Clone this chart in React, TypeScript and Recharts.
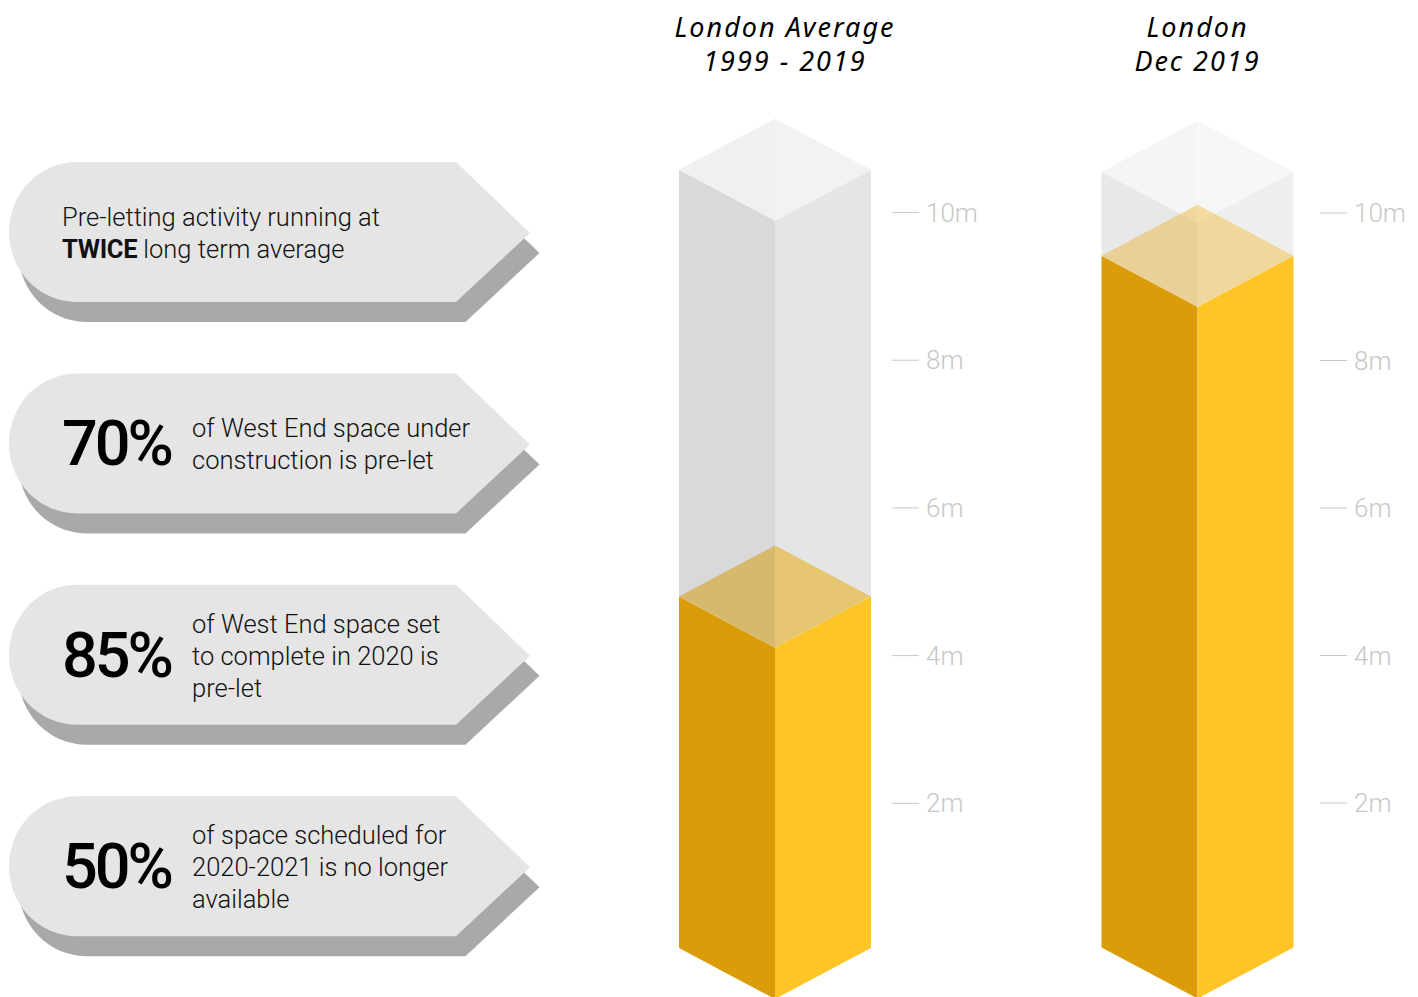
import React from "react";
import { Bar, BarChart, XAxis, YAxis } from "recharts";

// Space pre-let, million sq ft
const periods = ["London Average 1999 - 2019", "London Dec 2019"];
const preLet = [4.8, 9.42];
const capacity = [10.58, 10.56];
const axisTicks = [2, 4, 6, 8, 10];

const figures = ["", "70%", "85%", "50%"];
const calloutLines = [
  ["Pre-letting activity running at", "long term average"],
  ["of West End space under", "construction is pre-let"],
  ["of West End space set", "to complete in 2020 is", "pre-let"],
  ["of space scheduled for", "2020-2021 is no longer", "available"],
];

const FONT = "Roboto, 'Open Sans', sans-serif";
const TITLE_FONT = "'Noto Sans', 'Open Sans', sans-serif";
const RISE = 51; // half height of the isometric top diamond
const BASE_INSET = 3;

const ghostAvg = { left: "#d9d9d9", right: "#e5e5e5", topL: "#f0f0f0", topR: "#f2f2f2" };
const ghostDec = { left: "#e8e8e8", right: "#efefef", topL: "#f5f5f5", topR: "#f7f7f7" };
const goldAvg = { topL: "#d6a425", topR: "#e7b025", opacity: 0.6 };
const goldDec = { topL: "#e6af25", topR: "#f0b425", opacity: 0.42 };

const pts = (list: number[][]) => list.map((p) => p.join(",")).join(" ");

function GoldWalls({ x, y, width, height }: any) {
  const mid = x + width / 2;
  const right = x + width;
  const bottom = y + height - BASE_INSET;
  return (
    <g>
      <polygon fill="#db9c09" points={pts([[x, y], [mid, y + RISE], [mid, bottom + RISE], [x, bottom]])} />
      <polygon fill="#ffc425" points={pts([[mid, y + RISE], [right, y], [right, bottom], [mid, bottom + RISE]])} />
    </g>
  );
}

// Empty part of the column, with the gold lid showing through it at its base
function GhostTop({ x, y, width, height, ghost, gold }: any) {
  const mid = x + width / 2;
  const right = x + width;
  const base = y + height;
  return (
    <g>
      <polygon fill={ghost.left} points={pts([[x, y], [mid, y + RISE], [mid, base + RISE], [x, base]])} />
      <polygon fill={ghost.right} points={pts([[mid, y + RISE], [right, y], [right, base], [mid, base + RISE]])} />
      <polygon fill={ghost.topL} points={pts([[x, y], [mid, y - RISE], [mid, y + RISE]])} />
      <polygon fill={ghost.topR} points={pts([[mid, y - RISE], [right, y], [mid, y + RISE]])} />
      <polygon fill={gold.topL} fillOpacity={gold.opacity} points={pts([[x, base], [mid, base - RISE], [mid, base + RISE]])} />
      <polygon fill={gold.topR} fillOpacity={gold.opacity} points={pts([[mid, base - RISE], [right, base], [mid, base + RISE]])} />
    </g>
  );
}

function ValueTick({ x, y, payload, gap }: any) {
  return (
    <g>
      <line x1={x + gap} x2={x + gap + 27} y1={y} y2={y} stroke="#c8c8c8" />
      <text x={x + gap + 34} y={y + 9} fontFamily={FONT} fontWeight={300} fontSize={26} fill="#c8c8c8">
        {payload.value}m
      </text>
    </g>
  );
}

function TitleTick({ x, payload, dx }: any) {
  const [first, second] = String(payload.value).includes("Average")
    ? ["London Average", "1999 - 2019"]
    : ["London", "Dec 2019"];
  return (
    <text
      textAnchor="middle"
      fontFamily={TITLE_FONT}
      fontStyle="italic"
      fontSize={27}
      letterSpacing={2}
      fill="#000"
    >
      <tspan x={x + dx} y={37}>{first}</tspan>
      <tspan x={x + dx} y={71}>{second}</tspan>
    </text>
  );
}

function Column({ index, left, width, marginLeft, axisWidth, plotTop, plotHeight, gap, titleDx, ghost, gold }: any) {
  const data = [{ name: periods[index], preLet: preLet[index], headroom: capacity[index] - preLet[index] }];
  return (
    <div style={{ position: "absolute", left, top: 0 }}>
      <BarChart
        width={width}
        height={997}
        data={data}
        barCategoryGap="0%"
        margin={{ top: 0, right: 0, left: marginLeft, bottom: 997 - plotTop - plotHeight }}
      >
        <XAxis
          dataKey="name"
          orientation="top"
          height={plotTop}
          axisLine={false}
          tickLine={false}
          tick={<TitleTick dx={titleDx} />}
        />
        <YAxis
          orientation="right"
          width={axisWidth}
          domain={[0, 12]}
          ticks={axisTicks}
          axisLine={false}
          tickLine={false}
          tickSize={0}
          tickMargin={0}
          tick={<ValueTick gap={gap} />}
        />
        <Bar dataKey="preLet" stackId="column" isAnimationActive={false} shape={(p: any) => <GoldWalls {...p} />} />
        <Bar
          dataKey="headroom"
          stackId="column"
          isAnimationActive={false}
          shape={(p: any) => <GhostTop {...p} ghost={ghost} gold={gold} />}
        />
      </BarChart>
    </div>
  );
}

// Arrow-ended pill with its dropped slab behind it
function calloutPath(top: number) {
  const b = top + 140;
  return `M78 ${top} L456 ${top} L530 ${top + 71} L456 ${b} L78 ${b} C38 ${b} 9 ${b - 32} 9 ${top + 70} C9 ${top + 32} 38 ${top} 78 ${top} Z`;
}

function Callouts() {
  return (
    <svg width={560} height={997} style={{ position: "absolute", left: 0, top: 0 }}>
      {calloutLines.map((lines, i) => {
        const top = 162 + i * 211.4;
        const path = calloutPath(top);
        const first = top + 80 - (lines.length - 1) * 16;
        const textX = figures[i] ? 192 : 62;
        return (
          <g key={i}>
            <path d={path} fill="#a9a9a9" transform="translate(9.5 20)" />
            <path d={path} fill="#e5e5e5" />
            {figures[i] && (
              <text x={62} y={top + 92} fontFamily={FONT} fontWeight={500} fontSize={63} letterSpacing={-3} fill="#000">
                {figures[i]}
              </text>
            )}
            {lines.map((line, j) => (
              <text key={j} x={textX} y={first + j * 32} fontFamily={FONT} fontWeight={300} fontSize={25.5} fill="#111">
                {i === 0 && j === 1 && <tspan fontWeight={700} letterSpacing={-0.3}>TWICE </tspan>}
                {line}
              </text>
            ))}
          </g>
        );
      })}
    </svg>
  );
}

export default function App() {
  return (
    <div style={{ position: "absolute", left: 0, top: 0, width: 1418, height: 997, overflow: "hidden", background: "#fff" }}>
      <Callouts />
      <Column
        index={0}
        left={640}
        width={371}
        marginLeft={39}
        axisWidth={140}
        plotTop={64.8}
        plotHeight={886.2}
        gap={21}
        titleDx={10}
        ghost={ghostAvg}
        gold={goldAvg}
      />
      <Column
        index={1}
        left={1062}
        width={356}
        marginLeft={39.5}
        axisWidth={124.5}
        plotTop={65.5}
        plotHeight={885}
        gap={26.5}
        titleDx={0}
        ghost={ghostDec}
        gold={goldDec}
      />
    </div>
  );
}
